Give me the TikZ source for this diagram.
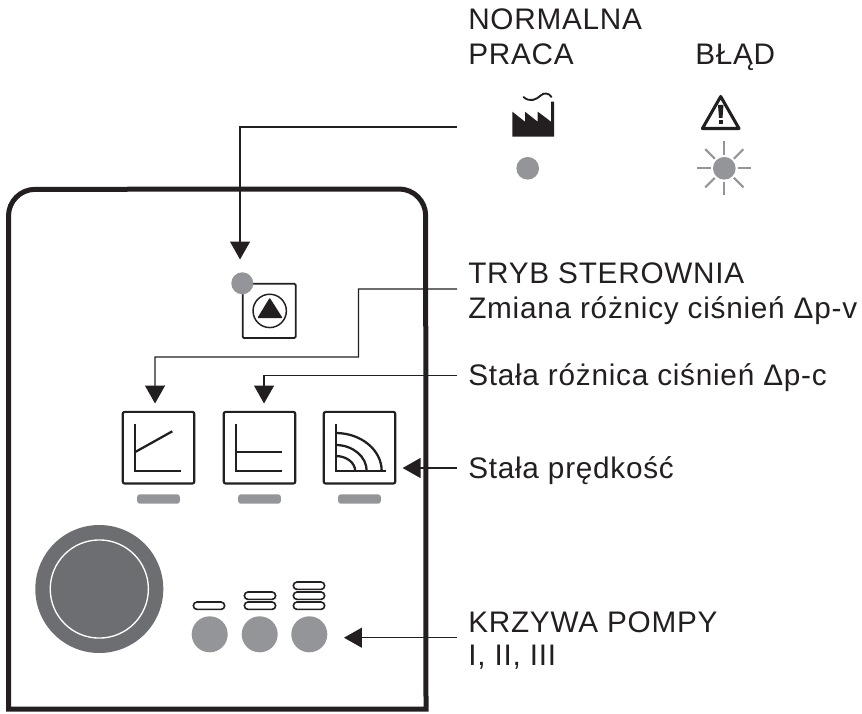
\documentclass[tikz,border=0pt]{standalone}
\usepackage{fontspec}
\setmainfont[LetterSpace=2.5]{Liberation Sans}
\usetikzlibrary{arrows.meta}
\definecolor{ink}{HTML}{231F20}
\definecolor{ledgray}{HTML}{939598}
\definecolor{knobgray}{HTML}{6D6E71}
\tikzset{
    pointer/.style={draw=ink, line width=1pt, -{Triangle[width=15pt,length=13.5pt]}},
    label/.style={anchor=base west, inner sep=0pt, text=ink, font=\fontsize{22.3}{26}\selectfont},
    modebox/.style={draw=ink, line width=1.6pt, rounded corners=1.5pt, minimum size=53.7pt, inner sep=0pt, outer sep=0pt},
    pumpbox/.style={draw=ink, line width=1.3pt, rounded corners=1pt, minimum width=39.8pt, minimum height=40.7pt, inner sep=0pt, outer sep=0pt},
    led/.style={circle, fill=ledgray, inner sep=0pt, outer sep=0pt, minimum size=#1},
    bar/.style={fill=ledgray, rounded corners=2pt, minimum width=32pt, minimum height=7pt, inner sep=0pt, outer sep=0pt},
    slot/.style={draw=ink, line width=1.2pt, rounded corners=2.8pt, minimum width=23.5pt, minimum height=5.6pt, inner sep=0pt, outer sep=0pt},
    glyph/.style={ink, line width=1.7pt},
}
\begin{document}
\begin{tikzpicture}[x=0.75pt,y=-0.75pt]
    \useasboundingbox (0,0) rectangle (862,713);
    % panel
        \draw[ink, line width=3.75pt] (8.5,709) -- (8.5,216) arc[start angle=180, end angle=90, radius=20pt] -- (399,189) arc[start angle=90, end angle=0, radius=20pt] -- (426,709) -- cycle;
    % texts
        \node[label] (normalna) at (468,30) {NORMALNA};
        \node[label] (praca) at (468,65) {PRACA};
        \node[label] (blad) at (695,65) {BŁĄD};
        \node[label] (tryb) at (468,283.5) {TRYB STEROWNIA};
        \node[label] (zmiana) at (468,318) {Zmiana różnicy ciśnień Δp-v};
        \node[label] (stala) at (468,385) {Stała różnica ciśnień Δp-c};
        \node[label] (predkosc) at (468,478) {Stała prędkość};
        \node[label] (krzywa) at (468,632) {KRZYWA POMPY};
        \node[label] (biegi) at (468,665) {I, II, III};
    % status icons
        \fill[ink] (512.3,136.7) -- (512.3,111.7) -- (525,121.7) -- (525,111.7) -- (537.7,121.7) -- (537.7,111.7) -- (551,121.7) -- (551,101.7) -- (554,101.7) -- (554,136.7) -- cycle;
        \draw[ink, line width=1.4pt, line cap=round] (523.5,97) .. controls (530,103) and (537,99) .. (540,96) .. controls (544,92) and (549,93) .. (551.5,97);
        \draw[ink, line width=2.3pt, line join=round] (720.7,96.5) -- (739,128.5) -- (702.4,128.5) -- cycle;
        \fill[ink] (718,105) -- (723.5,105) -- (722.5,118) -- (719,118) -- cycle;
        \fill[ink] (718.6,120) rectangle (723,124.5);
        \node[led=17pt] (ledok) at (527.7,168.3) {};
        \node[led=17pt] (lederr) at (724.3,168.3) {};
        \foreach \a in {0,45,...,315}{
            \draw[ledgray, line width=1.6pt] (lederr) ++(\a:13.5) -- ++(\a:13.5);
        }
    % pump button
        \node[pumpbox] (pumpbtn) at (269.2,310.9) {};
        \draw[ink, line width=1.1pt] (pumpbtn) ++(0.5,0) circle[radius=12.5pt];
        \fill[ink, rounded corners=0.5pt] (269.7,297.7) -- (282.6,318) -- (257.4,318) -- cycle;
        \node[led=16.5pt] (ledpump) at (242.3,283.3) {};
    % mode buttons
        \foreach \x/\v in {158.5/a,259.5/b,359.5/c}{
            \node[modebox] (mode\v) at (\x,447.7) {};
            \node[bar] (bar\v) at (\x,499) {};
        }
        \draw[glyph] (134.7,424) -- (134.7,471) -- (181.3,471);
        \draw[glyph] (134.7,452.3) -- (172.3,431.3);
        \draw[glyph] (235.7,424) -- (235.7,471) -- (282.3,471);
        \draw[glyph] (235.7,452.3) -- (282.3,452.3);
        \draw[glyph] (335.7,424) -- (335.7,471) -- (386,471);
        \foreach \rx/\ry in {46/38,31/26,19.5/15}{
            \draw[glyph] (335.7+\rx,471) arc[start angle=0, end angle=-90, x radius=\rx, y radius=\ry];
        }
    % knob
        \node[circle, fill=knobgray, minimum size=96pt, inner sep=0pt] (knob) at (99.3,589) {};
        \draw[white, line width=1pt] (knob) circle[radius=36.8pt];
    % curve buttons
        \foreach \x/\v in {209.7/a,259.7/b,309.3/c}{
            \node[led=27pt] (curve\v) at (\x,634.3) {};
        }
        \foreach \x/\y in {209/605.7,260/605.7,260/595.7,309/605.7,309/595.7,309/585.7}{
            \node[slot] at (\x,\y) {};
        }
    % connectors
        \coordinate (fromnormal) at (457,127);
        \coordinate (fromtryb) at (457,289);
        \coordinate (fromstala) at (457,375.7);
        \coordinate (frompredkosc) at (457,468);
        \coordinate (fromkrzywa) at (457,637.7);
        \draw[pointer, shorten >=9.6pt] (fromnormal) -| ([xshift=-1.7pt]ledpump.north);
        \draw[pointer, shorten >=6.3pt] (fromtryb) -- (358.5,289) -- (358.5,357) -- (155,357) -- ([xshift=-2.6pt]modea.north);
        \draw[pointer, shorten >=6.3pt] (fromstala) -| ([xshift=3.4pt]modeb.north);
        \draw[pointer, shorten >=5.5pt] (frompredkosc) -- (modec.east |- frompredkosc);
        \draw[pointer, shorten >=12.5pt] (fromkrzywa) -- (curvec.east |- fromkrzywa);
\end{tikzpicture}
\end{document}
